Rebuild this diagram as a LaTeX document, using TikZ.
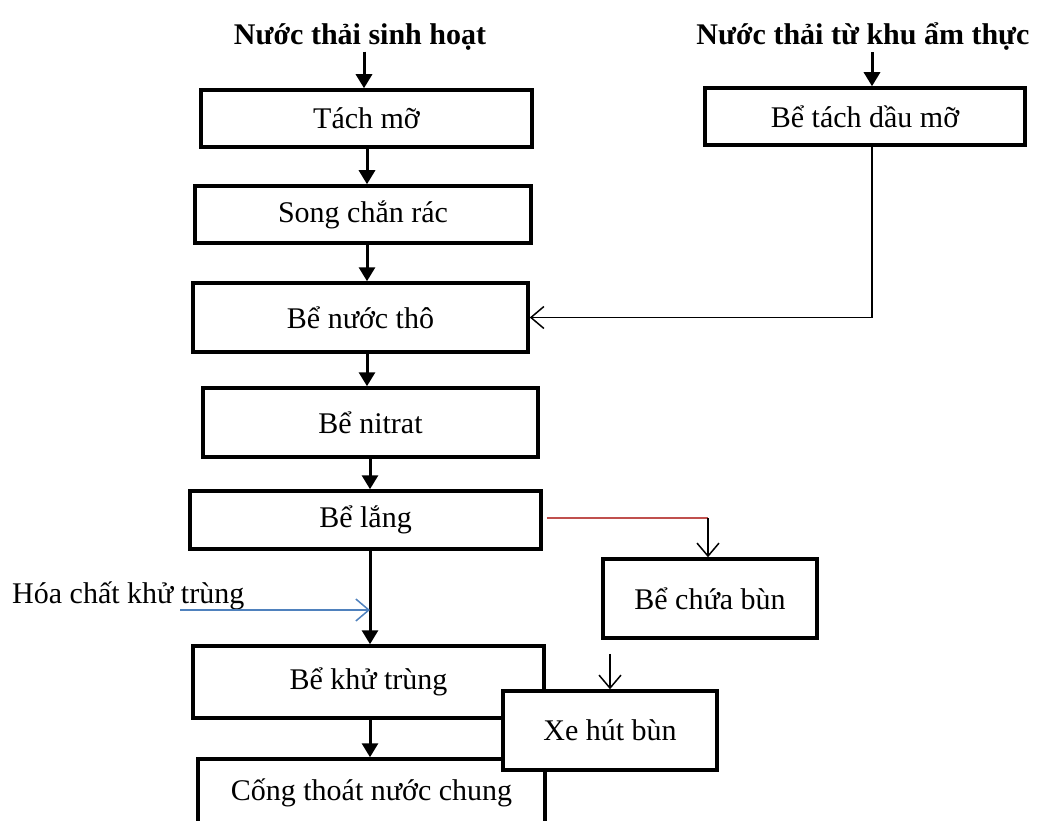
\documentclass[tikz,border=0pt]{standalone}
\usepackage{fontspec}
\setmainfont{Liberation Serif}
\usetikzlibrary{arrows.meta}
\definecolor{sludgered}{HTML}{C0504D}
\definecolor{dosingblue}{HTML}{4F81BD}
\tikzset{
  stage/.style={draw, line width=3.5pt, fill=white, inner sep=0pt,
    font=\fontsize{30}{36}\selectfont},
  source/.style={inner sep=0pt, font=\fontsize{30}{36}\selectfont\bfseries},
  flow/.style={line width=3pt, -{Triangle[length=14pt,width=16pt]}},
  thinflow/.style={line width=1.5pt, -{Straight Barb[length=13pt,width=22pt]}},
}
\begin{document}
\begin{tikzpicture}[x=1pt,y=-1pt]
\clip (0,0) rectangle (1038,821);
\fill[white] (0,0) rectangle (1038,821);

% x positions of the vertical trunk lines
\coordinate (trunkA) at (367,0);
\coordinate (trunkB) at (370,0);
\coordinate (inlet) at (364,0);
\coordinate (feedback) at (872,0);
\coordinate (sludge) at (708,0);

% sources
\node[source] (h1) at (360,37) {Nước thải sinh hoạt};
\node[source] (h2) at (863,37) {Nước thải từ khu ẩm thực};

% main line
\node[stage, minimum width=331pt, minimum height=57pt] (tach) at (366.5,118.5) {Tách mỡ};
\node[stage, minimum width=336pt, minimum height=57pt] (song) at (363,214.5) {Song chắn rác};
\node[stage, minimum width=335pt, minimum height=69pt] (tho) at (360.5,317.5) {Bể nước thô};
\node[stage, minimum width=335pt, minimum height=69pt] (nitrat) at (370.5,422.5) {Bể nitrat};
\node[stage, minimum width=351pt, minimum height=58pt] (lang) at (365.5,520) {Bể lắng};
\node[stage, minimum width=351pt, minimum height=72pt] (khu) at (368.5,682) {Bể khử trùng};
\node[stage, minimum width=347pt, minimum height=68pt] (cong) at (371.5,793) {Cống thoát nước chung};

% side branches
\node[stage, minimum width=320pt, minimum height=57pt] (dau) at (865,116.5) {Bể tách dầu mỡ};
\node[stage, minimum width=214pt, minimum height=79pt] (chua) at (710,598.5) {Bể chứa bùn};
\node[stage, minimum width=214pt, minimum height=79pt] (xe) at (610,730.5) {Xe hút bùn};

% chemical dosing label
\node[inner sep=0pt, anchor=base west, font=\fontsize{30}{36}\selectfont] (hoa) at (12,603) {Hóa chất khử trùng};
\coordinate (dose) at (180,610);

% thick flow arrows
\draw[flow] ([yshift=-1pt]h1.south -| inlet) -- (tach.north -| inlet);
\draw[flow] ([yshift=-1pt]h2.south -| feedback) -- (dau.north -| feedback);
\draw[flow] (tach.south -| trunkA) -- (song.north -| trunkA);
\draw[flow] (song.south -| trunkA) -- (tho.north -| trunkA);
\draw[flow] (tho.south -| trunkA) -- (nitrat.north -| trunkA);
\draw[flow] (nitrat.south -| trunkB) -- (lang.north -| trunkB);
\draw[flow] (lang.south -| trunkB) -- (khu.north -| trunkB);
\draw[flow] (khu.south -| trunkB) -- (cong.north -| trunkB);

% kitchen wastewater joins the raw water tank
\draw[thinflow] (dau.south -| feedback) |- (tho.east);

% chemical dosing
\draw[thinflow, dosingblue] (dose) -- (dose -| trunkB);

% sludge line
\draw[line width=1.5pt, sludgered] ([xshift=4pt,yshift=2pt]lang.east) -- ([yshift=2pt]lang.east -| sludge);
\draw[thinflow] ([yshift=2pt]lang.east -| sludge) -- (chua.north -| sludge);
\draw[thinflow] ([yshift=-14pt]chua.south -| xe.north) -- (xe.north);

% the truck box sits over the lower boxes
\node[stage, minimum width=214pt, minimum height=79pt] at (xe) {Xe hút bùn};
\end{tikzpicture}
\end{document}
